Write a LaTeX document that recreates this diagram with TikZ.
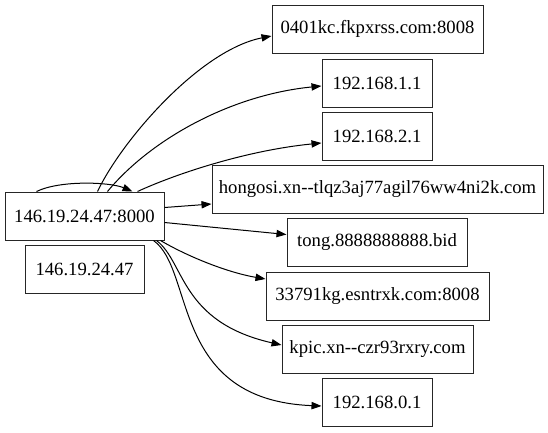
\documentclass[tikz,border=0pt]{standalone}
\usepackage{fontspec}
\setmainfont{Liberation Serif}[Ligatures=TeXOff]
\usetikzlibrary{arrows.meta,calc}
\begin{document}
\begin{tikzpicture}[x=0.75pt,y=-0.75pt,
  box/.style={draw=black!85,line width=0.75pt,rectangle,inner sep=0pt,minimum height=36pt,font=\fontsize{14pt}{16pt}\selectfont},
  edge/.style={draw=black,line width=0.75pt,-{Triangle[length=7.5pt,width=5.5pt]}}]
\useasboundingbox (0,0) rectangle (548,432);
\node[box,minimum width=119.25pt] (main) at (84.5,216) {146.19.24.47:8000};
\node[box,minimum width=89.25pt] (ip) at (84.5,269) {146.19.24.47};
\node[box,minimum width=158.25pt] (n1) at (377.5,29) {0401kc.fkpxrss.com:8008};
\node[box,minimum width=82.5pt] (n2) at (377,83) {192.168.1.1};
\node[box,minimum width=82.5pt] (n3) at (377,136) {192.168.2.1};
\node[box,minimum width=248.25pt] (n4) at (377.5,189) {hongosi.xn--tlqz3aj77agil76ww4ni2k.com};
\node[box,minimum width=135pt] (n5) at (377,242.5) {tong.8888888888.bid};
\node[box,minimum width=167.25pt] (n6) at (377.5,296) {33791kg.esntrxk.com:8008};
\node[box,minimum width=143.25pt] (n7) at (377.5,349) {kpic.xn--czr93rxry.com};
\node[box,minimum width=82.5pt] (n8) at (377,402) {192.168.0.1};
% self loop
\draw[edge] ($(main.north west)+(32,0)$) .. controls (60,180) and (110,182) .. ($(main.north west)+(128,0)$);
\draw[edge] ($(main.north west)+(93,0)$) .. controls (122,140) and (200,50) .. ($(n1.west)+(0,7)$);
\draw[edge] ($(main.north west)+(103,0)$) .. controls (150,140) and (230,95) .. ($(n2.west)+(0,3)$);
\draw[edge] ($(main.north west)+(133,0)$) .. controls (180,172) and (250,150) .. ($(n3.west)+(0,7)$);
\draw[edge] ($(main.north east)+(0,16)$) -- ($(n4.west)+(0,15)$);
\draw[edge] ($(main.north east)+(0,31)$) -- ($(n5.west)+(0,-8)$);
\draw[edge] ($(main.south east)+(-4,0)$) .. controls (185,255) and (225,272) .. ($(n6.west)+(0,-17)$);
\draw[edge] ($(main.south east)+(-8,0)$) .. controls (185,262) and (180,322) .. ($(n7.west)+(0,-4)$);
\draw[edge] ($(main.south east)+(-11,0)$) .. controls (195,270) and (170,400) .. ($(n8.west)+(0,4)$);
\end{tikzpicture}
\end{document}
